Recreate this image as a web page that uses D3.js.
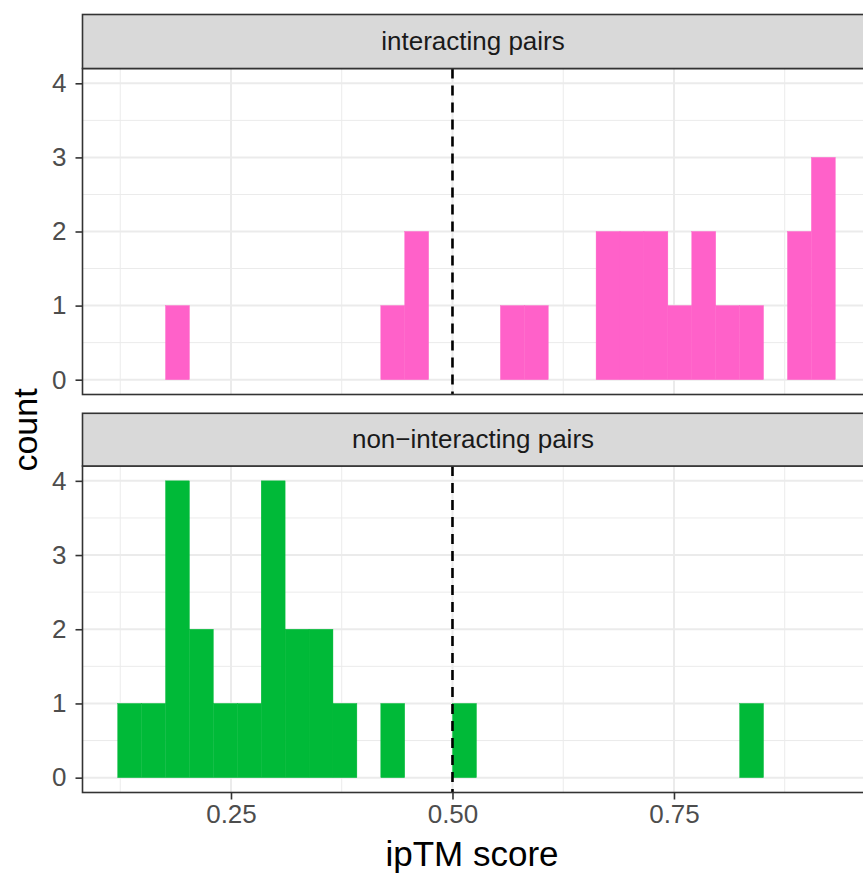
<!DOCTYPE html>
<html>
<head>
<meta charset="utf-8">
<script src="https://cdn.jsdelivr.net/npm/d3@7"></script>
<style>
  html, body { margin: 0; padding: 0; background: #fff; }
  svg { display: block; font-family: "Liberation Sans", Arial, Helvetica, sans-serif; }
</style>
</head>
<body>
<svg id="chart" width="863" height="874"></svg>
<script>
// ---- data ----
const panels = ["interacting pairs", "non\u2212interacting pairs"];
const binLower = [0.1221,0.1491,0.1761,0.2031,0.2301,0.2571,0.2841,0.3111,0.3381,0.3651,
                  0.3921,0.4191,0.4461,0.4731,0.5001,0.5271,0.5541,0.5811,0.6081,0.6351,
                  0.6621,0.6891,0.7161,0.7431,0.7701,0.7971,0.8241,0.8511,0.8781,0.9051];
const binUpper = [0.1491,0.1761,0.2031,0.2301,0.2571,0.2841,0.3111,0.3381,0.3651,0.3921,
                  0.4191,0.4461,0.4731,0.5001,0.5271,0.5541,0.5811,0.6081,0.6351,0.6621,
                  0.6891,0.7161,0.7431,0.7701,0.7971,0.8241,0.8511,0.8781,0.9051,0.9321];
const interactingCounts =    [0,0,1,0,0,0,0,0,0,0,0,1,2,0,0,0,1,1,0,0,2,2,2,1,2,1,1,0,2,3];
const nonInteractingCounts = [1,1,4,2,1,1,4,2,2,1,0,1,0,0,1,0,0,0,0,0,0,0,0,0,0,0,1,0,0,0];
const xTicks = [0.25, 0.50, 0.75];
const xTickLabels = ["0.25", "0.50", "0.75"];
const xMinor = [0.125, 0.375, 0.625, 0.875];
const yTicks = [0, 1, 2, 3, 4];
const yMinor = [0.5, 1.5, 2.5, 3.5];
const threshold = 0.5;
const xTitle = "ipTM score";
const yTitle = "count";
const colors = ["#FF61C9", "#00BA38"];

// ---- layout ----
const svg = d3.select("#chart");
const left = 82.5, right = 869.5;
const panelBoxes = [
  { stripTop: 14.5, top: 68.5, bottom: 394.5 },
  { stripTop: 413.3, top: 466, bottom: 792.5 }
];
const x = d3.scaleLinear().domain([0.0824, 0.9707]).range([left, right]);
const countsList = [interactingCounts, nonInteractingCounts];

panelBoxes.forEach((p, i) => {
  const y = d3.scaleLinear().domain([-0.2, 4.2]).range([p.bottom, p.top]);
  const g = svg.append("g");
  g.append("rect").attr("x", left).attr("y", p.top).attr("width", right - left)
    .attr("height", p.bottom - p.top).attr("fill", "#fff");
  g.selectAll(".ymin").data(yMinor).join("line")
    .attr("x1", left).attr("x2", right).attr("y1", d => y(d)).attr("y2", d => y(d))
    .attr("stroke", "#ebebeb").attr("stroke-width", 1);
  g.selectAll(".xmin").data(xMinor).join("line")
    .attr("y1", p.top).attr("y2", p.bottom).attr("x1", d => x(d)).attr("x2", d => x(d))
    .attr("stroke", "#ebebeb").attr("stroke-width", 1);
  g.selectAll(".ymaj").data(yTicks).join("line")
    .attr("x1", left).attr("x2", right).attr("y1", d => y(d)).attr("y2", d => y(d))
    .attr("stroke", "#ebebeb").attr("stroke-width", 2);
  g.selectAll(".xmaj").data(xTicks).join("line")
    .attr("y1", p.top).attr("y2", p.bottom).attr("x1", d => x(d)).attr("x2", d => x(d))
    .attr("stroke", "#ebebeb").attr("stroke-width", 2);
  const counts = countsList[i];
  const bins = counts.map((c, k) => ({ x0: binLower[k], x1: binUpper[k], c }));
  g.selectAll(".bar").data(bins.filter(b => b.c > 0)).join("rect")
    .attr("x", d => x(d.x0)).attr("width", d => x(d.x1) - x(d.x0))
    .attr("y", d => y(d.c)).attr("height", d => y(0) - y(d.c))
    .attr("fill", colors[i]).attr("stroke", colors[i]).attr("stroke-width", 0.4);
  g.append("line").attr("x1", x(threshold)).attr("x2", x(threshold))
    .attr("y1", p.top).attr("y2", p.bottom)
    .attr("stroke", "#000").attr("stroke-width", 2.6).attr("stroke-dasharray", "10,7");
  g.append("rect").attr("x", left).attr("y", p.top).attr("width", right - left)
    .attr("height", p.bottom - p.top).attr("fill", "none")
    .attr("stroke", "#333").attr("stroke-width", 1.6);
  g.append("rect").attr("x", left).attr("y", p.stripTop).attr("width", right - left)
    .attr("height", p.top - p.stripTop).attr("fill", "#d9d9d9")
    .attr("stroke", "#333").attr("stroke-width", 1.6);
  g.append("text").attr("x", (left + right) / 2 - 3).attr("y", p.stripTop + 35)
    .attr("text-anchor", "middle").attr("font-size", 26).attr("fill", "#1a1a1a")
    .text(panels[i]);
  const yAxis = d3.axisLeft(y).tickValues(yTicks).tickSize(7).tickPadding(9).tickFormat(d3.format("d"));
  const ya = g.append("g").attr("transform", `translate(${left},0)`).call(yAxis);
  ya.select(".domain").remove();
  ya.selectAll(".tick line").attr("stroke", "#333").attr("stroke-width", 1.6);
  ya.selectAll(".tick text").attr("font-size", 26).attr("fill", "#4d4d4d")
    .attr("font-family", "Liberation Sans, Arial, sans-serif");
  if (i === 1) {
    const xAxis = d3.axisBottom(x).tickValues(xTicks).tickSize(7).tickPadding(5)
      .tickFormat((d, k) => xTickLabels[k]);
    const xa = g.append("g").attr("transform", `translate(0,${p.bottom})`).call(xAxis);
    xa.select(".domain").remove();
    xa.selectAll(".tick line").attr("stroke", "#333").attr("stroke-width", 1.6);
    xa.selectAll(".tick text").attr("font-size", 26).attr("fill", "#4d4d4d")
      .attr("font-family", "Liberation Sans, Arial, sans-serif");
  }
});

svg.append("text").attr("x", 472).attr("y", 866).attr("text-anchor", "middle")
  .attr("font-size", 35).attr("fill", "#000").text(xTitle);
svg.append("text").attr("transform", "translate(37,430) rotate(-90)")
  .attr("text-anchor", "middle").attr("font-size", 34).attr("fill", "#000").text(yTitle);
</script>
</body>
</html>
